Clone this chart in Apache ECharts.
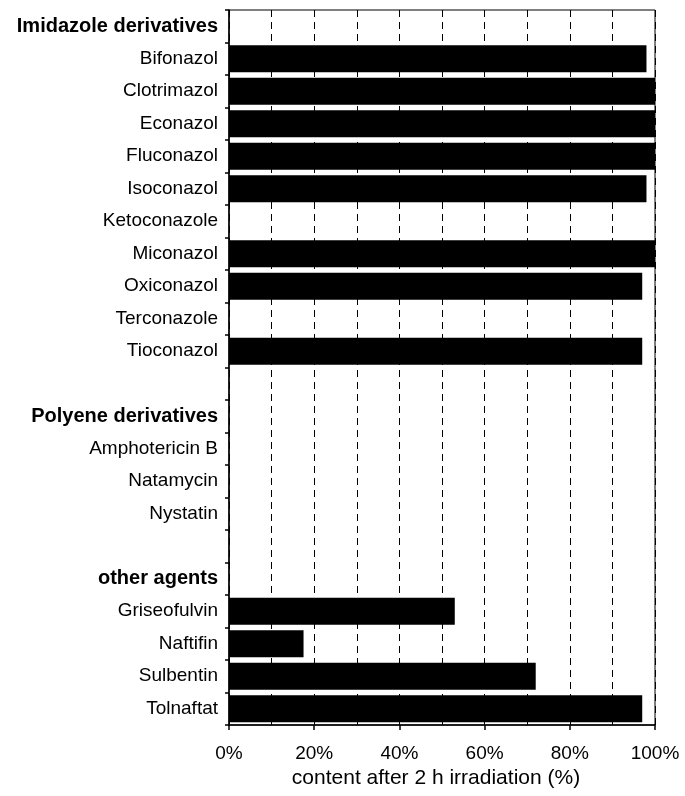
<!DOCTYPE html>
<html>
<head>
<meta charset="utf-8">
<script src="https://cdn.jsdelivr.net/npm/echarts@6/dist/echarts.min.js"></script>
<style>
  html, body { margin: 0; padding: 0; background: #fff; }
  #chart { width: 685px; height: 796px; }
</style>
</head>
<body>
<div id="chart"></div>
<script>
// Row labels, top to bottom; blank entries are spacer rows between groups
const categories = [
  'Imidazole derivatives', 'Bifonazol', 'Clotrimazol', 'Econazol', 'Fluconazol',
  'Isoconazol', 'Ketoconazole', 'Miconazol', 'Oxiconazol', 'Terconazole', 'Tioconazol',
  '', 'Polyene derivatives', 'Amphotericin B', 'Natamycin', 'Nystatin',
  ' ', 'other agents', 'Griseofulvin', 'Naftifin', 'Sulbentin', 'Tolnaftat'
];
// Group heading rows (drawn in bold)
const groupHeaders = ['Imidazole derivatives', 'Polyene derivatives', 'other agents'];
// Remaining content (%) after 2 h irradiation; null = no bar
const contentAfter2h = [
  null, 98, 100, 100, 100,
  98, null, 100, 97, null, 97,
  null, null, null, null, null,
  null, null, 53, 17.5, 72, 97
];
const xTicks = [0, 20, 40, 60, 80, 100];

const font = '"Liberation Sans", Arial, Helvetica, sans-serif';
const chart = echarts.init(document.getElementById('chart'));

chart.setOption({
  animation: false,
  backgroundColor: '#fff',
  grid: {
    left: 229, right: 30, top: 10, bottom: 71,
    show: true, borderColor: '#000', borderWidth: 1
  },
  xAxis: {
    type: 'value',
    min: xTicks[0], max: xTicks[xTicks.length - 1], interval: 20,
    axisLine: { show: true, lineStyle: { color: '#000', width: 1.5 } },
    axisTick: { show: true, length: 5, lineStyle: { color: '#000', width: 1.5 } },
    axisLabel: {
      color: '#000', fontFamily: font, fontSize: 19, margin: 19,
      formatter: v => v + '%'
    },
    splitLine: { show: true, lineStyle: { color: '#000', type: [7, 5], width: 1 } },
    minorTick: { show: false, splitNumber: 2 },
    minorSplitLine: { show: true, lineStyle: { color: '#000', type: [7, 5], width: 1 } },
    name: 'content after 2 h irradiation (%)',
    nameLocation: 'middle', nameGap: 43,
    nameTextStyle: { color: '#000', fontFamily: font, fontSize: 21, padding: [0, 12, 0, 0] }
  },
  yAxis: {
    type: 'category',
    data: categories,
    inverse: true,
    axisLine: { show: true, lineStyle: { color: '#000', width: 1.5 } },
    axisTick: { show: true, length: 4, lineStyle: { color: '#000', width: 1.5 } },
    axisLabel: {
      interval: 0, margin: 11, color: '#000', fontFamily: font, fontSize: 19,
      formatter: v => groupHeaders.includes(v) ? '{b|' + v + '}' : v,
      rich: { b: { fontWeight: 'bold', fontFamily: font, fontSize: 20, color: '#000' } }
    },
    splitLine: { show: false }
  },
  series: [{
    type: 'bar',
    data: contentAfter2h,
    barCategoryGap: '17%',
    itemStyle: { color: '#000' }
  }]
});
</script>
</body>
</html>
